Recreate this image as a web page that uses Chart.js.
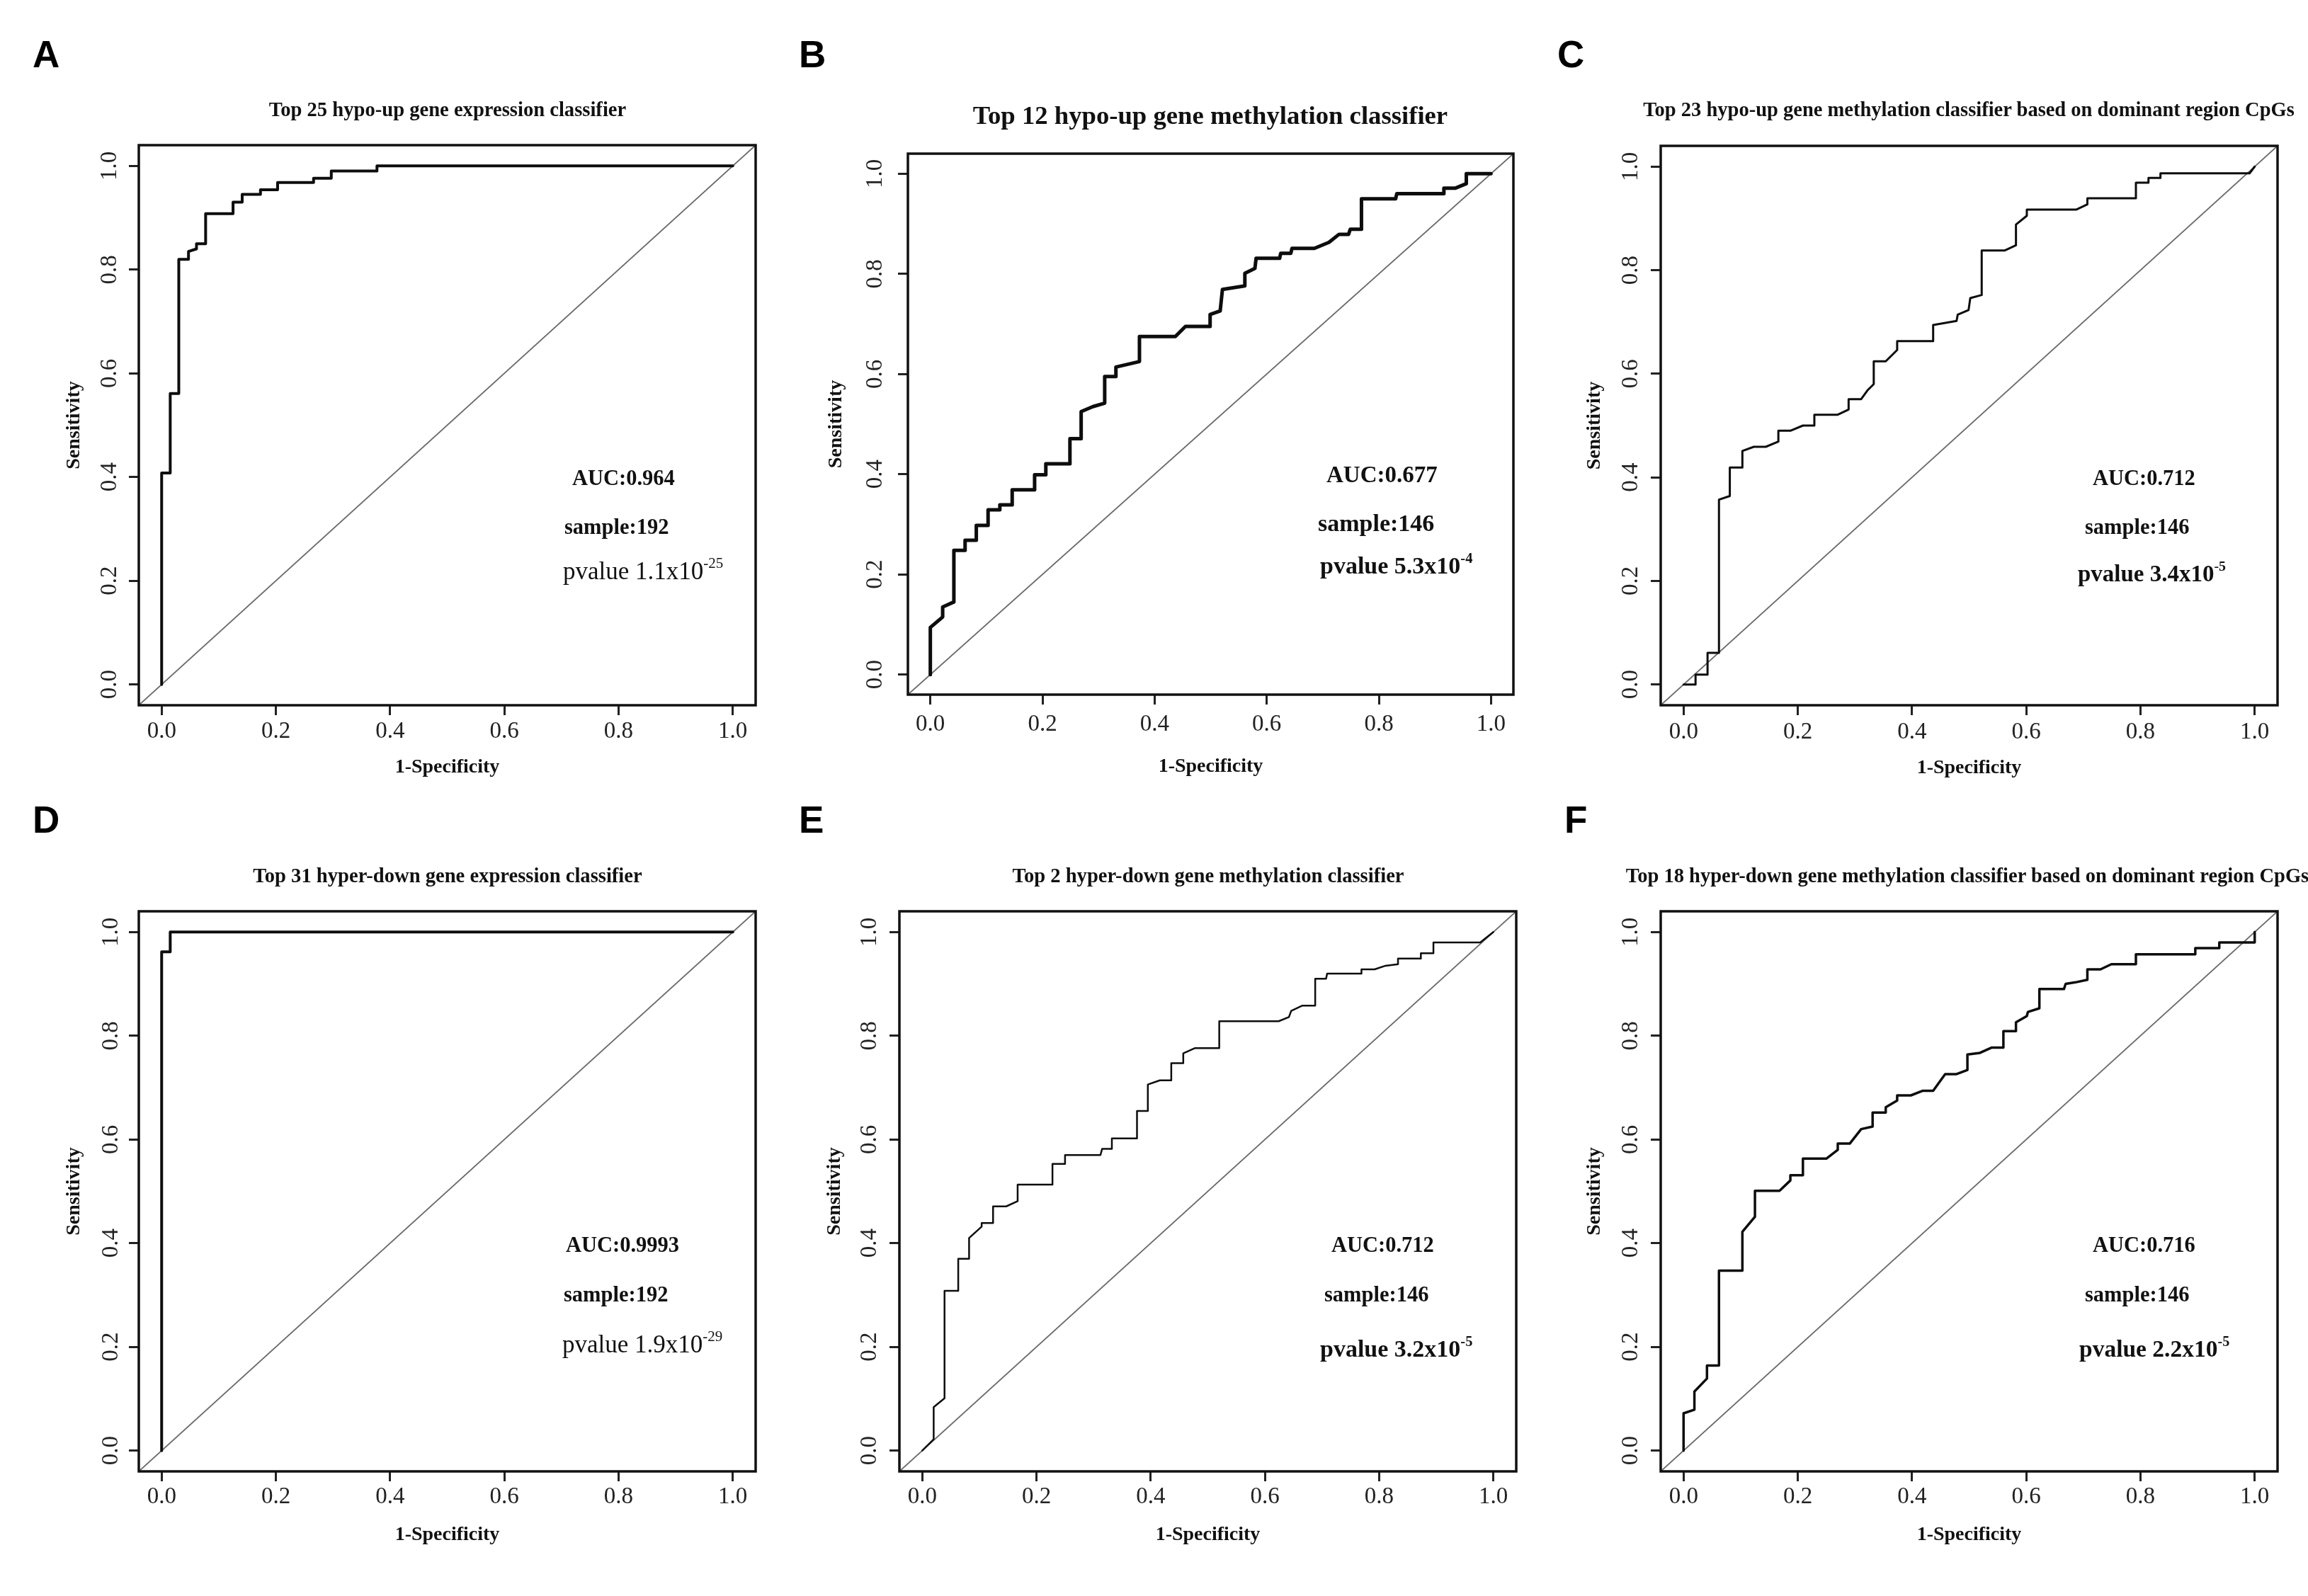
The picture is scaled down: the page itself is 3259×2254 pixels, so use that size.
<!DOCTYPE html>
<html><head><meta charset="utf-8">
<script src="https://cdn.jsdelivr.net/npm/chart.js@4.4.1/dist/chart.umd.min.js"></script>
<style>
html,body{margin:0;padding:0;background:#fff;}
#page{position:relative;width:3259px;height:2254px;overflow:hidden;background:#fff;}
#page canvas{position:absolute;}
.t{position:absolute;white-space:nowrap;font-family:'Liberation Serif','Times New Roman',serif;color:#111;line-height:1;}
.letter{font-family:'Liberation Sans',Arial,sans-serif;font-weight:bold;color:#000;}
.sup{font-size:0.6em;position:relative;top:-0.75em;}
</style></head><body><div id="page"></div>
<script>
// ---------- data ----------
const AXIS_RANGE = [-0.04, 1.04];
const TICK_VALUES = [0, 0.2, 0.4, 0.6, 0.8, 1.0];
const TICK_LABELS = ['0.0', '0.2', '0.4', '0.6', '0.8', '1.0'];
const X_TITLE = '1-Specificity';
const Y_TITLE = 'Sensitivity';
const PANEL_LETTERS = ['A', 'B', 'C', 'D', 'E', 'F'];
const TITLES = [
  'Top 25 hypo-up gene expression classifier',
  'Top 12 hypo-up gene methylation classifier',
  'Top 23 hypo-up gene methylation classifier based on dominant region CpGs',
  'Top 31 hyper-down gene expression classifier',
  'Top 2 hyper-down gene methylation classifier',
  'Top 18 hyper-down gene methylation classifier based on dominant region CpGs'
];
const AUC_LABELS = ['AUC:0.964', 'AUC:0.677', 'AUC:0.712', 'AUC:0.9993', 'AUC:0.712', 'AUC:0.716'];
const SAMPLE_LABELS = ['sample:192', 'sample:146', 'sample:146', 'sample:192', 'sample:146', 'sample:146'];
const PVALUE_BASE = ['pvalue 1.1x10', 'pvalue 5.3x10', 'pvalue 3.4x10', 'pvalue 1.9x10', 'pvalue 3.2x10', 'pvalue 2.2x10'];
const PVALUE_EXP = ['-25', '-4', '-5', '-29', '-5', '-5'];

// identity (reference) line spans the whole plot region
const DIAG_X = [-0.04, 1.04];
const DIAG_Y = [-0.04, 1.04];

// A: Top 25 hypo-up gene expression
const A_FPR = [0, 0, 0.015, 0.015, 0.030, 0.030, 0.047, 0.047, 0.061, 0.061, 0.077, 0.077, 0.125, 0.125, 0.141, 0.141, 0.173, 0.173, 0.203, 0.203, 0.266, 0.266, 0.297, 0.297, 0.377, 0.377, 1.0];
const A_TPR = [0, 0.408, 0.408, 0.561, 0.561, 0.820, 0.820, 0.835, 0.840, 0.850, 0.850, 0.908, 0.908, 0.930, 0.930, 0.945, 0.945, 0.954, 0.954, 0.968, 0.968, 0.976, 0.976, 0.990, 0.990, 1.0, 1.0];

// B: Top 12 hypo-up gene methylation
const B_FPR = [0, 0, 0.022, 0.022, 0.042, 0.042, 0.062, 0.062, 0.082, 0.082, 0.103, 0.103, 0.124, 0.124, 0.146, 0.146, 0.186, 0.186, 0.206, 0.206, 0.249, 0.249, 0.269, 0.269, 0.290, 0.311, 0.311, 0.331, 0.331, 0.373, 0.373, 0.437, 0.455, 0.499, 0.499, 0.517, 0.521, 0.561, 0.561, 0.579, 0.581, 0.623, 0.625, 0.643, 0.645, 0.685, 0.711, 0.729, 0.746, 0.749, 0.769, 0.769, 0.830, 0.832, 0.916, 0.916, 0.936, 0.956, 0.956, 1.0];
const B_TPR = [0, 0.094, 0.115, 0.135, 0.145, 0.248, 0.248, 0.268, 0.268, 0.298, 0.298, 0.329, 0.329, 0.339, 0.339, 0.369, 0.369, 0.399, 0.399, 0.421, 0.421, 0.471, 0.471, 0.525, 0.535, 0.542, 0.595, 0.595, 0.614, 0.625, 0.675, 0.675, 0.695, 0.695, 0.719, 0.726, 0.769, 0.776, 0.801, 0.811, 0.831, 0.831, 0.841, 0.841, 0.851, 0.851, 0.863, 0.879, 0.879, 0.889, 0.889, 0.950, 0.950, 0.960, 0.960, 0.971, 0.971, 0.980, 1.0, 1.0];

// C: Top 23 hypo-up gene methylation (dominant region CpGs)
const C_FPR = [0, 0.021, 0.021, 0.042, 0.042, 0.062, 0.062, 0.081, 0.081, 0.103, 0.103, 0.123, 0.144, 0.166, 0.166, 0.187, 0.209, 0.229, 0.229, 0.270, 0.289, 0.289, 0.311, 0.322, 0.333, 0.333, 0.354, 0.374, 0.374, 0.437, 0.437, 0.478, 0.480, 0.499, 0.502, 0.522, 0.522, 0.562, 0.582, 0.582, 0.601, 0.601, 0.688, 0.707, 0.707, 0.792, 0.792, 0.814, 0.814, 0.835, 0.835, 0.991, 1.0];
const C_TPR = [0, 0, 0.019, 0.019, 0.061, 0.061, 0.357, 0.364, 0.419, 0.419, 0.451, 0.459, 0.459, 0.469, 0.490, 0.490, 0.500, 0.500, 0.521, 0.521, 0.531, 0.551, 0.551, 0.568, 0.580, 0.624, 0.624, 0.646, 0.663, 0.663, 0.694, 0.702, 0.714, 0.723, 0.746, 0.752, 0.838, 0.838, 0.848, 0.888, 0.905, 0.917, 0.917, 0.927, 0.939, 0.939, 0.969, 0.969, 0.978, 0.978, 0.987, 0.987, 1.0];

// D: Top 31 hyper-down gene expression
const D_FPR = [0, 0, 0.015, 0.015, 1.0];
const D_TPR = [0, 0.962, 0.962, 1.0, 1.0];

// E: Top 2 hyper-down gene methylation
const E_FPR = [0, 0.020, 0.020, 0.039, 0.039, 0.063, 0.063, 0.082, 0.082, 0.104, 0.104, 0.124, 0.124, 0.147, 0.167, 0.167, 0.228, 0.228, 0.250, 0.250, 0.312, 0.315, 0.332, 0.332, 0.376, 0.376, 0.395, 0.395, 0.416, 0.436, 0.436, 0.457, 0.457, 0.477, 0.520, 0.520, 0.624, 0.642, 0.646, 0.665, 0.688, 0.688, 0.707, 0.709, 0.769, 0.769, 0.792, 0.811, 0.833, 0.833, 0.873, 0.873, 0.895, 0.895, 0.977, 1.0];
const E_TPR = [0, 0.022, 0.084, 0.101, 0.308, 0.308, 0.370, 0.370, 0.410, 0.432, 0.439, 0.439, 0.471, 0.471, 0.481, 0.513, 0.513, 0.553, 0.553, 0.570, 0.570, 0.582, 0.582, 0.602, 0.602, 0.655, 0.655, 0.706, 0.714, 0.714, 0.747, 0.747, 0.766, 0.776, 0.776, 0.828, 0.828, 0.836, 0.848, 0.858, 0.858, 0.910, 0.910, 0.920, 0.920, 0.928, 0.928, 0.935, 0.938, 0.949, 0.949, 0.959, 0.959, 0.980, 0.980, 1.0];

// F: Top 18 hyper-down gene methylation (dominant region CpGs)
const F_FPR = [0, 0, 0.019, 0.019, 0.041, 0.041, 0.062, 0.062, 0.103, 0.103, 0.125, 0.125, 0.168, 0.187, 0.187, 0.209, 0.209, 0.250, 0.270, 0.270, 0.291, 0.311, 0.331, 0.331, 0.354, 0.354, 0.374, 0.374, 0.398, 0.419, 0.437, 0.458, 0.478, 0.497, 0.497, 0.519, 0.539, 0.560, 0.560, 0.582, 0.582, 0.601, 0.603, 0.623, 0.623, 0.666, 0.669, 0.686, 0.707, 0.707, 0.730, 0.749, 0.792, 0.792, 0.896, 0.896, 0.938, 0.938, 1.0, 1.0];
const F_TPR = [0, 0.072, 0.079, 0.114, 0.139, 0.164, 0.164, 0.347, 0.347, 0.422, 0.451, 0.501, 0.501, 0.521, 0.531, 0.531, 0.563, 0.563, 0.580, 0.592, 0.592, 0.620, 0.625, 0.652, 0.652, 0.662, 0.675, 0.685, 0.685, 0.694, 0.694, 0.726, 0.726, 0.734, 0.764, 0.767, 0.777, 0.777, 0.809, 0.809, 0.826, 0.838, 0.846, 0.853, 0.890, 0.890, 0.900, 0.903, 0.908, 0.928, 0.928, 0.938, 0.938, 0.957, 0.957, 0.969, 0.969, 0.980, 0.980, 1.0];

const SERIES = [[A_FPR, A_TPR], [B_FPR, B_TPR], [C_FPR, C_TPR], [D_FPR, D_TPR], [E_FPR, E_TPR], [F_FPR, F_TPR]];

// ---------- layout (page pixels) ----------
const LAYOUT = [
  {cx:0,    cy:0,    cw:1090, ch:1120, L:196,  T:205,  R:1067, B:996,  yTitleX:105,  xTitleY:1084, yGap:41, xGap:37, lw:4,
   letter:[46,76],   title:[632,155,28.6],  ann:[[808,675,30.5,'bold'],[797,744,30.5,'bold'],[795,806,35,'normal']]},
  {cx:1090, cy:0,    cw:1090, ch:1120, L:1282, T:217,  R:2137, B:981,  yTitleX:1181, xTitleY:1083, yGap:46, xGap:42, lw:5,
   letter:[1128,76], title:[1709,163,36.7], ann:[[1873,670,33,'bold'],[1861,739,34,'bold'],[1864,799,34,'bold']]},
  {cx:2170, cy:0,    cw:1089, ch:1120, L:2345, T:206,  R:3216, B:996,  yTitleX:2252, xTitleY:1085, yGap:42, xGap:38, lw:3,
   letter:[2199,76], title:[2780,155,28.5], ann:[[2955,675,30.5,'bold'],[2944,744,30.5,'bold'],[2934,810,33,'bold']]},
  {cx:0,    cy:1120, cw:1090, ch:1134, L:196,  T:1287, R:1067, B:2078, yTitleX:105,  xTitleY:2168, yGap:39, xGap:36, lw:4,
   letter:[46,1157], title:[632,1237,28.6], ann:[[799,1758,30.5,'bold'],[796,1828,30.5,'bold'],[794,1898,35,'normal']]},
  {cx:1090, cy:1120, cw:1090, ch:1134, L:1270, T:1287, R:2141, B:2078, yTitleX:1179, xTitleY:2168, yGap:42, xGap:36, lw:2.5,
   letter:[1128,1157], title:[1706,1237,28.6], ann:[[1880,1758,30.5,'bold'],[1870,1828,30.5,'bold'],[1864,1905,34,'bold']]},
  {cx:2170, cy:1120, cw:1089, ch:1134, L:2345, T:1287, R:3216, B:2078, yTitleX:2252, xTitleY:2168, yGap:42, xGap:36, lw:3.5,
   letter:[2209,1157], title:[2778,1237,28.5], ann:[[2955,1758,30.5,'bold'],[2944,1828,30.5,'bold'],[2936,1905,33.5,'bold']]}
];

const SERIF = "'Liberation Serif', 'Times New Roman', serif";
const TICK_FONT = 33, TICK_LEN = 14, AXIS_TITLE_FONT = 28;
Chart.defaults.font.family = SERIF;

const boxPlugin = {
  id: 'rbox',
  afterDraw(chart) {
    const a = chart.chartArea, ctx = chart.ctx;
    ctx.save();
    ctx.strokeStyle = '#111';
    ctx.lineWidth = 3.5;
    ctx.strokeRect(a.left, a.top, a.right - a.left, a.bottom - a.top);
    ctx.restore();
  }
};

const page = document.getElementById('page');

function addText(html, left, top, cls, style) {
  const d = document.createElement('div');
  d.className = 't ' + (cls || '');
  d.innerHTML = html;
  d.style.left = left + 'px';
  d.style.top = top + 'px';
  Object.assign(d.style, style || {});
  page.appendChild(d);
  return d;
}

LAYOUT.forEach((g, i) => {
  const cv = document.createElement('canvas');
  cv.width = g.cw; cv.height = g.ch;
  cv.style.left = g.cx + 'px'; cv.style.top = g.cy + 'px';
  cv.style.width = g.cw + 'px'; cv.style.height = g.ch + 'px';
  page.appendChild(cv);

  const [fx, fy] = SERIES[i];
  const curve = fx.map((x, k) => ({x: x, y: fy[k]}));
  const diag = DIAG_X.map((x, k) => ({x: x, y: DIAG_Y[k]}));

  const yAxisW = g.L - g.cx;
  const xAxisH = (g.cy + g.ch) - g.B;
  const lh = TICK_FONT * 1.2;
  const yPad = g.yGap - TICK_LEN - 20.6;
  const xPad = g.xGap - TICK_LEN - lh / 2;
  const tlh = AXIS_TITLE_FONT * 1.2;

  new Chart(cv, {
    type: 'scatter',
    data: {
      datasets: [
        {data: curve, showLine: true, borderColor: '#0d0d0d', borderWidth: g.lw, pointRadius: 0,
         borderJoinStyle: 'round', borderCapStyle: 'round', tension: 0, fill: false},
        {data: diag, showLine: true, borderColor: '#6a6a6a', borderWidth: 1.8, pointRadius: 0, tension: 0, fill: false}
      ]
    },
    options: {
      responsive: false, animation: false, devicePixelRatio: 1,
      layout: {padding: {left: 0, top: g.T - g.cy, right: (g.cx + g.cw) - g.R, bottom: 0}},
      plugins: {legend: {display: false}, tooltip: {enabled: false}, title: {display: false}},
      scales: {
        x: {
          type: 'linear', min: AXIS_RANGE[0], max: AXIS_RANGE[1],
          afterBuildTicks: s => { s.ticks = TICK_VALUES.map(v => ({value: v})); },
          afterFit: s => { s.height = xAxisH; },
          ticks: {callback: (v, k) => TICK_LABELS[k], font: {size: TICK_FONT, family: SERIF}, color: '#222',
                  padding: xPad, maxRotation: 0, minRotation: 0, autoSkip: false},
          grid: {drawOnChartArea: false, drawTicks: true, tickLength: TICK_LEN, tickWidth: 3, color: '#222'},
          border: {display: false},
          title: {display: true, text: X_TITLE, color: '#111',
                  font: {size: AXIS_TITLE_FONT, weight: 'bold', family: SERIF},
                  padding: {top: 0, bottom: (g.cy + g.ch) - g.xTitleY - tlh / 2}}
        },
        y: {
          type: 'linear', min: AXIS_RANGE[0], max: AXIS_RANGE[1],
          afterBuildTicks: s => { s.ticks = TICK_VALUES.map(v => ({value: v})); },
          afterFit: s => { s.width = yAxisW; },
          ticks: {callback: (v, k) => TICK_LABELS[k], font: {size: TICK_FONT, family: SERIF}, color: '#222',
                  padding: yPad, minRotation: 90, maxRotation: 90, crossAlign: 'center', autoSkip: false},
          grid: {drawOnChartArea: false, drawTicks: true, tickLength: TICK_LEN, tickWidth: 3, color: '#222'},
          border: {display: false},
          title: {display: true, text: Y_TITLE, color: '#111',
                  font: {size: AXIS_TITLE_FONT, weight: 'bold', family: SERIF},
                  padding: {top: g.yTitleX - g.cx - tlh / 2, bottom: 0}}
        }
      }
    },
    plugins: [boxPlugin]
  });

  // panel letter
  const LS = 53;
  addText(PANEL_LETTERS[i], g.letter[0], g.letter[1] - LS * 0.5, 'letter', {fontSize: LS + 'px'});
  // title
  const [tx, ty, ts] = g.title;
  addText(TITLES[i], tx, ty - ts * 0.5, '', {fontSize: ts + 'px', fontWeight: 'bold', transform: 'translateX(-50%)'});
  // annotations
  const texts = [AUC_LABELS[i], SAMPLE_LABELS[i], PVALUE_BASE[i] + '<span class="sup">' + PVALUE_EXP[i] + '</span>'];
  g.ann.forEach((a, k) => {
    addText(texts[k], a[0], a[1] - a[2] * 0.5, '', {fontSize: a[2] + 'px', fontWeight: a[3]});
  });
});
</script>
</body></html>
